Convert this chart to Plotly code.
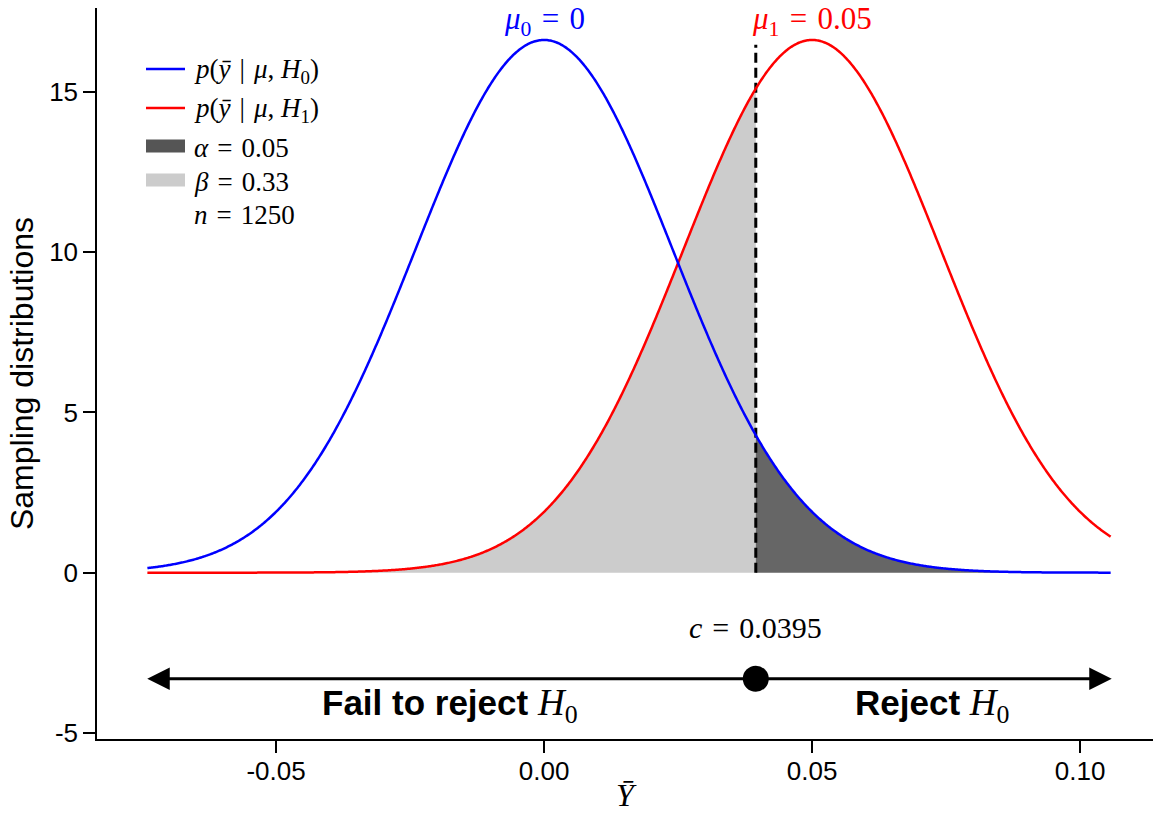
import numpy as np
import plotly.graph_objects as go

# Test set-up: sampling distributions of the mean under H0 and H1
mu0 = 0.0
mu1 = 0.05
std_err = 0.024
crit = 0.0395
alpha_lbl = "0.05"
beta_lbl = "0.33"
n_obs = 1250

# Horizontal extent of the curves, the decision arrow and the cut-off marker
curve_lo, curve_hi = -0.074, 0.1057
arrow_lo, arrow_hi = -0.0743, 0.1059
arrow_y = -3.31
cut_top = 16.47

x_ticks = [-0.05, 0.0, 0.05, 0.10]
x_tick_text = ["-0.05", "0.00", "0.05", "0.10"]
y_ticks = [-5, 0, 5, 10, 15]
y_tick_text = ["-5", "0", "5", "10", "15"]

SANS = "Liberation Sans, Arial, sans-serif"
SERIF = "Liberation Serif, Times New Roman, serif"
SP = "\u2004"  # three-per-em space, for math-style spacing around relations


def density(x, mu, s):
    return np.exp(-0.5 * ((x - mu) / s) ** 2) / (s * np.sqrt(2 * np.pi))


xs = np.linspace(curve_lo, curve_hi, 900)
xs_beta = np.linspace(curve_lo, crit, 500)
xs_alpha = np.linspace(crit, curve_hi, 400)

fig = go.Figure()

# beta region: under H1 curve, left of the cut-off
fig.add_trace(go.Scatter(x=xs_beta, y=density(xs_beta, mu1, std_err), mode="lines",
                         fill="tozeroy", fillcolor="#cccccc", line=dict(width=0),
                         showlegend=False, hoverinfo="skip"))
# alpha region: under H0 curve, right of the cut-off
fig.add_trace(go.Scatter(x=xs_alpha, y=density(xs_alpha, mu0, std_err), mode="lines",
                         fill="tozeroy", fillcolor="#666666", line=dict(width=0),
                         showlegend=False, hoverinfo="skip"))
# cut-off line
fig.add_trace(go.Scatter(x=[crit, crit], y=[0, cut_top], mode="lines",
                         line=dict(color="black", width=3, dash="10px,5px"),
                         showlegend=False))
# density curves
fig.add_trace(go.Scatter(x=xs, y=density(xs, mu1, std_err), mode="lines",
                         line=dict(color="#ff0000", width=2.5, simplify=False), showlegend=False))
fig.add_trace(go.Scatter(x=xs, y=density(xs, mu0, std_err), mode="lines",
                         line=dict(color="#0000ff", width=2.5, simplify=False), showlegend=False))
# cut-off point on the decision line
fig.add_trace(go.Scatter(x=[crit], y=[arrow_y], mode="markers",
                         marker=dict(color="black", size=26), showlegend=False))

annotations = [
    dict(x=arrow_hi, y=arrow_y, ax=arrow_lo, ay=arrow_y, xref="x", yref="y",
         axref="x", ayref="y", text="", showarrow=True, arrowside="end+start",
         arrowhead=2, startarrowhead=2, arrowsize=1.5, startarrowsize=1.5,
         arrowwidth=3, arrowcolor="black", standoff=0, startstandoff=0),
    dict(x=mu0, y=17.2, xref="x", yref="y", showarrow=False,
         text=f"<i>μ</i><sub>0</sub>{SP}={SP}0",
         font=dict(family=SERIF, size=31, color="#0000ff")),
    dict(x=mu1, y=17.2, xref="x", yref="y", showarrow=False,
         text=f"<i>μ</i><sub>1</sub>{SP}={SP}0.05",
         font=dict(family=SERIF, size=31, color="#ff0000")),
    dict(x=crit, y=-1.72, xref="x", yref="y", showarrow=False,
         text=f"<i>c</i>{SP}={SP}{crit}", font=dict(family=SERIF, size=30, color="black")),
    dict(x=-0.0175, y=-4.15, xref="x", yref="y", showarrow=False,
         text="<b>Fail to reject</b> <span style='font-family:Liberation Serif;font-size:37px'><i>H</i><sub>0</sub></span>",
         font=dict(family=SANS, size=35, color="black")),
    dict(x=0.0724, y=-4.15, xref="x", yref="y", showarrow=False,
         text="<b>Reject</b> <span style='font-family:Liberation Serif;font-size:37px'><i>H</i><sub>0</sub></span>",
         font=dict(family=SANS, size=35, color="black")),
]

# Legend drawn in paper coordinates
W, H = 1153, 813
ml, mr, mt, mb = 97, 0, 8, 74
pw, ph = W - ml - mr, H - mt - mb


def px(xp):
    return (xp - ml) / pw


def py(yp):
    return (H - mb - yp) / ph


shapes = []
legend_rows = [
    ("line", "#0000ff", f"<i>p</i>(<i>ȳ</i>{SP}|{SP}<i>μ</i>, <i>H</i><sub>0</sub>)", 69),
    ("line", "#ff0000", f"<i>p</i>(<i>ȳ</i>{SP}|{SP}<i>μ</i>, <i>H</i><sub>1</sub>)", 108),
    ("rect", "#555555", f"<i>α</i>{SP}={SP}{alpha_lbl}", 146),
    ("rect", "#cccccc", f"<i>β</i>{SP}={SP}{beta_lbl}", 180),
    ("none", None, f"<i>n</i>{SP}={SP}{n_obs}", 213),
]
for kind, col, label, yc in legend_rows:
    if kind == "line":
        shapes.append(dict(type="line", xref="paper", yref="paper",
                           x0=px(146), x1=px(185), y0=py(yc), y1=py(yc),
                           line=dict(color=col, width=2.5)))
    elif kind == "rect":
        shapes.append(dict(type="rect", xref="paper", yref="paper",
                           x0=px(146), x1=px(185), y0=py(yc - 6.5), y1=py(yc + 6.5),
                           fillcolor=col, line=dict(width=0)))
    annotations.append(dict(x=px(192), y=py(yc + 2), xref="paper", yref="paper",
                            xanchor="left", yanchor="middle", showarrow=False,
                            text=label, font=dict(family=SERIF, size=27, color="black")))

axis_common = dict(showline=True, linecolor="black", linewidth=1.5, ticks="outside",
                   ticklen=12, tickwidth=1.5, tickcolor="black", showgrid=False,
                   zeroline=False, automargin=False,
                   tickfont=dict(family=SANS, size=26, color="black"))

fig.update_layout(
    width=W, height=H,
    margin=dict(l=ml, r=mr, t=mt, b=mb),
    paper_bgcolor="white", plot_bgcolor="white",
    showlegend=False,
    annotations=annotations,
    shapes=shapes,
    xaxis=dict(range=[-0.0834, 0.1136], tickvals=x_ticks, ticktext=x_tick_text,
               ticklabelstandoff=-4,
               title=dict(text="<i>Ȳ</i>", font=dict(family=SERIF, size=32, color="black"),
                          standoff=8),
               **axis_common),
    yaxis=dict(range=[-5.19, 17.62], tickvals=y_ticks, ticktext=y_tick_text,
               title=dict(text="Sampling distributions", font=dict(family=SANS, size=32, color="black"),
                          standoff=6),
               **axis_common),
)

fig.write_html("out.html")
